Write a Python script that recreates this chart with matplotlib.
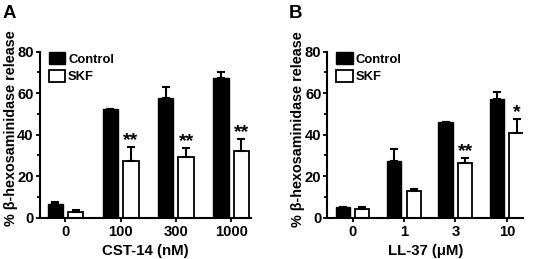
import matplotlib
matplotlib.use("Agg")
import matplotlib.pyplot as plt
import numpy as np
from matplotlib.patches import Patch

plt.rcParams['font.family'] = ['Liberation Sans', 'DejaVu Sans']

# ---- data ----
a_categories = ['0', '100', '300', '1000']
a_control = [6.4, 52.2, 57.9, 67.1]
a_control_err = [1.0, 0.3, 5.0, 3.2]
a_skf = [2.6, 27.4, 29.2, 32.1]
a_skf_err = [1.1, 6.5, 4.5, 5.8]
a_sig = ['', '**', '**', '**']

b_categories = ['0', '1', '3', '10']
b_control = [5.0, 27.1, 46.0, 57.3]
b_control_err = [0.3, 6.1, 0.2, 3.1]
b_skf = [4.1, 12.9, 26.6, 40.8]
b_skf_err = [1.0, 0.9, 2.0, 6.7]
b_sig = ['', '', '**', '*']

series_labels = ['Control', 'SKF']
ylabel = '% β-hexosaminidase release'
a_xlabel = 'CST-14 (nM)'
b_xlabel = 'LL-37 (μM)'
yticks = [0, 20, 40, 60, 80]

W, H = 536, 259
fig = plt.figure(figsize=(W / 100, H / 100), dpi=100)

def px_axes(l, r, t, b):
    return fig.add_axes([l / W, 1 - b / H, (r - l) / W, (b - t) / H])

axA = px_axes(39.5, 250.7, 51.7, 217.7)
axB = px_axes(327.3, 523.3, 51.7, 217.7)

def draw(ax, cats, ctrl, ctrl_err, skf, skf_err, sig, xlabel, xlim, off, bw):
    x = np.arange(len(cats))
    ax.bar(x - off, ctrl, bw, color='black', edgecolor='black', linewidth=1.0, zorder=2)
    ax.bar(x + off, skf, bw, color='white', edgecolor='black', linewidth=1.3, zorder=2)
    ax.errorbar(x - off, ctrl, yerr=[np.zeros(len(ctrl)), ctrl_err], fmt='none',
                ecolor='black', elinewidth=1.5, capsize=3.2, capthick=1.5, zorder=3)
    ax.errorbar(x + off, skf, yerr=[np.zeros(len(skf)), skf_err], fmt='none',
                ecolor='black', elinewidth=1.5, capsize=3.2, capthick=1.5, zorder=3)
    for xi, v, e, s in zip(x, skf, skf_err, sig):
        if s:
            ax.text(xi + off, v + e + 1.0, s, ha='center', va='baseline',
                    fontsize=14, fontweight='bold')
    ax.set_xlim(*xlim)
    ax.set_ylim(0, 80)
    ax.set_yticks(yticks)
    ax.set_yticks([10, 30, 50, 70], minor=True)
    ax.set_xticks(x)
    ax.set_xticklabels(cats)
    for sp in ['top', 'right']:
        ax.spines[sp].set_visible(False)
    for sp in ['left', 'bottom']:
        ax.spines[sp].set_linewidth(1.5)
    ax.tick_params(axis='both', which='major', width=1.3, length=3, labelsize=10.6)
    ax.tick_params(axis='y', which='major', pad=1.2)
    ax.tick_params(axis='x', which='major', pad=2.5)
    ax.tick_params(axis='y', which='minor', width=1.3, length=2.2)
    for lab in ax.get_xticklabels() + ax.get_yticklabels():
        lab.set_fontweight('bold')
    ax.set_xlabel(xlabel, fontsize=10.8, fontweight='bold', labelpad=3)
    ax.set_ylabel(ylabel, fontsize=10.4, fontweight='bold')
    handles = [Patch(facecolor='black', edgecolor='black', linewidth=1.0),
               Patch(facecolor='white', edgecolor='black', linewidth=1.3)]
    ax.legend(handles, series_labels, loc='upper left', bbox_to_anchor=(0.045, 0.996),
              frameon=False, borderpad=0, borderaxespad=0, handlelength=1.26,
              handleheight=1.0, handletextpad=0.2, labelspacing=0.33,
              prop={'weight': 'bold', 'size': 9.4})

draw(axA, a_categories, a_control, a_control_err, a_skf, a_skf_err, a_sig,
     a_xlabel, (-0.47, 3.354), 0.185, 0.28)
draw(axB, b_categories, b_control, b_control_err, b_skf, b_skf_err, b_sig,
     b_xlabel, (-0.49, 3.32), 0.19, 0.28)

axA.yaxis.set_label_coords((17.5 - 39.5) / 211.2, (217.7 - 128) / 166)
axB.yaxis.set_label_coords((305 - 327.3) / 196.0, (217.7 - 129) / 166)

fig.text(3 / W, 1 - 18 / H, 'A', fontsize=13.4, fontweight='bold', ha='left', va='baseline')
fig.text(289 / W, 1 - 18 / H, 'B', fontsize=13.4, fontweight='bold', ha='left', va='baseline')

fig.savefig('out.png', dpi=100)
